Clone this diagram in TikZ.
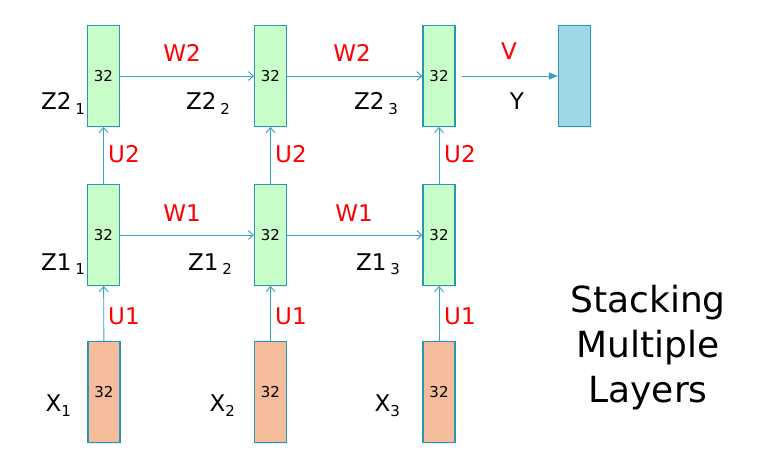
\documentclass[tikz,border=0pt]{standalone}
\usepackage{fontspec}
\setmainfont{DejaVu Sans}
\usetikzlibrary{arrows.meta,shadows}
\definecolor{linkblue}{RGB}{58,160,200}
\definecolor{edgeblue}{RGB}{42,150,180}
\definecolor{hidgreen}{RGB}{200,255,200}
\definecolor{inpeach}{RGB}{245,188,155}
\definecolor{outblue}{RGB}{158,216,232}
\newcommand{\idx}[2]{#1\raisebox{-5pt}{\fontsize{15}{15}\selectfont #2}}
\tikzset{
  layer/.style={draw=edgeblue, line width=1.1pt, minimum width=32pt,
    minimum height=101pt, inner sep=0pt, font=\fontsize{15}{15}\selectfont,
    drop shadow={shadow xshift=0.6pt, shadow yshift=-1.8pt, opacity=0.13}},
  hid/.style={layer, fill=hidgreen},
  inp/.style={layer, fill=inpeach},
  outp/.style={layer, fill=outblue},
  wt/.style={text=red, inner sep=0pt, font=\fontsize{23}{23}\selectfont},
  var/.style={inner sep=0pt, font=\fontsize{23}{23}\selectfont},
  link/.style={draw=linkblue, line width=0.9pt, -{Straight Barb[length=5pt,width=9pt]}},
}
\begin{document}
\begin{tikzpicture}[x=1pt,y=-1pt]
  \useasboundingbox (0,0) rectangle (780,476);
  \draw
    (103.5,76) node[hid] (z21){32}
    (270.5,76) node[hid] (z22){32}
    (439,76) node[hid] (z23){32}
    (574.5,76) node[outp] (y){}
    (103.5,235) node[hid] (z11){32}
    (270.5,235) node[hid] (z12){32}
    (439,235) node[hid] (z13){32}
    (104,392) node[inp] (x1){32}
    (270.5,392) node[inp] (x2){32}
    (439,392) node[inp] (x3){32};
  \draw
    (85,110) node[var,anchor=base east] (lz21){\idx{Z2\,}{1}}
    (230,110) node[var,anchor=base east] (lz22){\idx{Z2\,}{2}}
    (398,110) node[var,anchor=base east] (lz23){\idx{Z2\,}{3}}
    (85,270) node[var,anchor=base east] (lz11){\idx{Z1\,}{1}}
    (232,270) node[var,anchor=base east] (lz12){\idx{Z1\,}{2}}
    (400,270) node[var,anchor=base east] (lz13){\idx{Z1\,}{3}}
    (71,411) node[var,anchor=base east] (lx1){\idx{X}{1}}
    (235,411) node[var,anchor=base east] (lx2){\idx{X}{2}}
    (400,411) node[var,anchor=base east] (lx3){\idx{X}{3}}
    (517,101) node[var] (ly){Y};
  \draw
    (182,62) node[wt,anchor=base] (w2a){W2}
    (352,62) node[wt,anchor=base] (w2b){W2}
    (182,222) node[wt,anchor=base] (w1a){W1}
    (354,222) node[wt,anchor=base] (w1b){W1}
    (108,154) node[wt,anchor=west] (u2a){U2}
    (275,154) node[wt,anchor=west] (u2b){U2}
    (444,154) node[wt,anchor=west] (u2c){U2}
    (108,316) node[wt,anchor=west] (u1a){U1}
    (275,316) node[wt,anchor=west] (u1b){U1}
    (444,316) node[wt,anchor=west] (u1c){U1}
    (509,51) node[wt] (v){V};
  \node[align=center, inner sep=0pt, anchor=north, font=\fontsize{36}{45}\selectfont]
    (title) at (648,285) {Stacking\\Multiple\\Layers};
  \begin{scope}[link]
    \draw (z21) to (z22);
    \draw (z22) to (z23);
    \draw (z11) to (z12);
    \draw (z12) to (z13);
    \draw (x1) to (z11);
    \draw (x2) to (z12);
    \draw (x3) to (z13);
    \draw (z11) to (z21);
    \draw (z12) to (z22);
    \draw (z13) to (z23);
    \draw[-{Triangle[length=9pt,width=7pt]}, shorten <=6pt] (z23) to (y);
  \end{scope}
\end{tikzpicture}
\end{document}
